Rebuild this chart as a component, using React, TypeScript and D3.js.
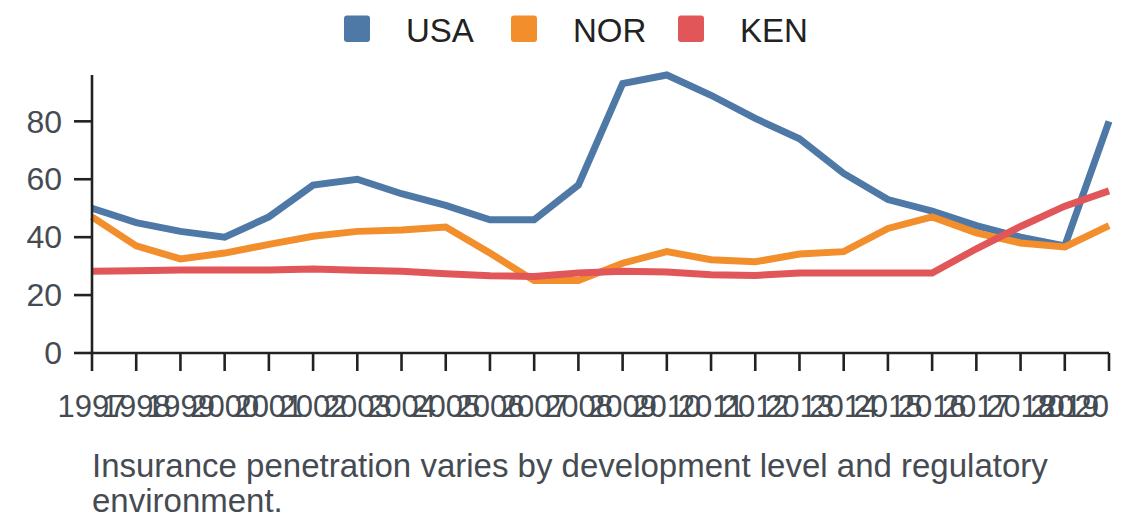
import React from "react";
import * as d3 from "d3";

const years = [1997,1998,1999,2000,2001,2002,2003,2004,2005,2006,2007,2008,2009,2010,2011,2012,2013,2014,2015,2016,2017,2018,2019,2020];
const usa = [50,45,42,40,47,58,60,55,51,46,46,58,93,96,89,81,74,62,53,49,44,40,37,80];
const nor = [47,37,32.5,34.5,37.5,40.3,42,42.5,43.5,34.5,25,25,31,35,32.2,31.5,34.2,35,43,47,41.5,38,36.6,44];
const ken = [28.2,28.4,28.7,28.7,28.7,29,28.6,28.2,27.4,26.7,26.4,27.6,28.2,28,27,26.8,27.6,27.6,27.6,27.6,36,43.7,50.7,56];
const seriesNames = ["USA","NOR","KEN"];
const seriesColors = ["#4e79a7","#f28e2b","#e15759"];
const yTicks = [0,20,40,60,80];
const captionLines = ["Insurance penetration varies by development level and regulatory","environment."];

const W = 1140, H = 528;
const FONT = "'Liberation Sans', Arial, Helvetica, sans-serif";

export default function App() {
  const x = d3.scaleLinear().domain([years[0], years[years.length - 1]]).range([92, 1109]);
  const y = d3.scaleLinear().domain([0, 96]).range([353, 75]);
  const line = d3.line<number>().x((_, i) => x(years[i])).y((v) => y(v));
  const data = [usa, nor, ken];
  const axisColor = "#222";
  const labelColor = "#454b52";
  return (
    <svg width={W} height={H} style={{ position: "absolute", left: 0, top: 0, fontFamily: FONT }}>
      <rect width={W} height={H} fill="#fff" />
      {/* legend */}
      {seriesNames.map((n, i) => (
        <g key={n} transform={`translate(${344 + i * 167},0)`}>
          <rect x={0} y={15.5} width={26} height={26.5} rx={3} fill={seriesColors[i]} />
          <text x={62} y={41.5} fontSize={33} fill="#222">{n}</text>
        </g>
      ))}
      {/* lines */}
      {data.map((d, i) => (
        <path key={i} d={line(d) || ""} fill="none" stroke={seriesColors[i]} strokeWidth={7} strokeLinejoin="miter" />
      ))}
      {/* y axis */}
      <line x1={92} x2={92} y1={75} y2={353} stroke={axisColor} strokeWidth={2.6} />
      {yTicks.map((t) => (
        <g key={t} transform={`translate(0,${y(t)})`}>
          <line x1={74} x2={92} stroke={axisColor} strokeWidth={2.6} />
          <text x={62} dy="0.35em" textAnchor="end" fontSize={32} fill={labelColor}>{t}</text>
        </g>
      ))}
      {/* x axis */}
      <line x1={92} x2={1109} y1={353} y2={353} stroke={axisColor} strokeWidth={2.6} />
      {years.map((yr, i) => (
        <g key={yr} transform={`translate(${x(yr)},353)`}>
          <line y1={0} y2={18} stroke={axisColor} strokeWidth={2.6} />
          <text y={64} textAnchor={i === years.length - 1 ? "end" : "middle"} fontSize={31} fill={labelColor}>{yr}</text>
        </g>
      ))}
      {/* caption */}
      {captionLines.map((l, i) => (
        <text key={i} x={92} y={477 + i * 35} fontSize={33} fill={labelColor}>{l}</text>
      ))}
    </svg>
  );
}
